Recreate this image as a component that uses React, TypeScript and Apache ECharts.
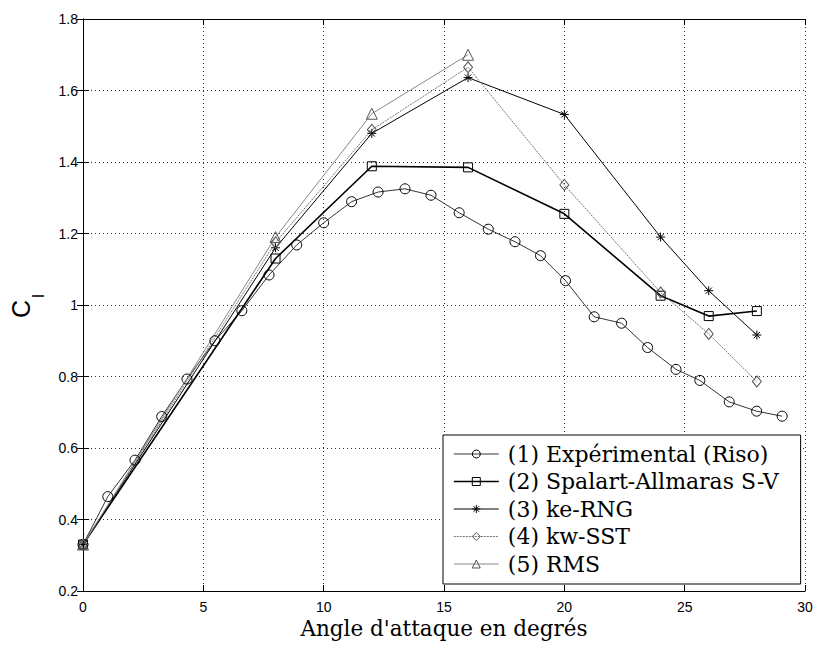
import React, { useEffect, useRef } from "react";
import * as echarts from "echarts";

const expX = [0, 1.03, 2.16, 3.27, 4.32, 5.48, 6.6, 7.73, 8.88, 10.0, 11.16, 12.26, 13.38, 14.46, 15.63, 16.84, 17.95, 19.01, 20.05, 21.24, 22.38, 23.46, 24.64, 25.63, 26.85, 27.99, 29.05];
const expY = [0.33, 0.464, 0.566, 0.688, 0.793, 0.9, 0.984, 1.084, 1.168, 1.23, 1.289, 1.316, 1.325, 1.307, 1.258, 1.212, 1.177, 1.138, 1.068, 0.967, 0.949, 0.881, 0.82, 0.789, 0.729, 0.703, 0.689];

const modelX = [0, 8, 12, 16, 20, 24, 26, 28];
const saY = [0.33, 1.13, 1.388, 1.385, 1.255, 1.026, 0.969, 0.983];
const rngY = [0.33, 1.16, 1.48, 1.636, 1.533, 1.19, 1.04, 0.916];
const sstY = [0.33, 1.175, 1.49, 1.665, 1.336, 1.035, 0.919, 0.786];
const rmsX = [0, 8, 12, 16];
const rmsY = [0.33, 1.19, 1.535, 1.7];

const seriesNames = [
  "(1) Expérimental (Riso)",
  "(2) Spalart-Allmaras S-V",
  "(3) ke-RNG",
  "(4) kw-SST",
  "(5) RMS",
];

const xTitle = "Angle d'attaque en degrés";

const pairs = (xs: number[], ys: number[]) => xs.map((x, i) => [x, ys[i]]);

const STAR = "path://M5,0 L5,10 M0,5 L10,5 M1.5,1.5 L8.5,8.5 M1.5,8.5 L8.5,1.5";

export default function App() {
  const ref = useRef<HTMLDivElement>(null);
  useEffect(() => {
    document.body.style.margin = "0";
    const chart = echarts.init(ref.current!, undefined, { renderer: "svg" });
    const sans = "Liberation Sans";
    const serif = "DejaVu Serif";
    const mk = (
      name: string,
      data: number[][],
      symbol: string,
      symbolSize: number | number[],
      lineColor: string,
      lineWidth: number,
      lineType: any,
      markColor: string
    ) => ({
      name,
      type: "line",
      data,
      symbol,
      symbolSize,
      showSymbol: true,
      lineStyle: { color: lineColor, width: lineWidth, type: lineType },
      itemStyle: { color: "none", borderColor: markColor, borderWidth: 1 },
      emphasis: { disabled: true },
      z: 3,
    });
    chart.setOption({
      animation: false,
      backgroundColor: "#fff",
      grid: { left: 83, top: 19, width: 722, height: 572, containLabel: false },
      xAxis: [
        {
          type: "value",
          min: 0,
          max: 30,
          interval: 5,
          axisLine: { lineStyle: { color: "#000", width: 1 } },
          axisTick: { inside: true, length: 6, lineStyle: { color: "#000" } },
          axisLabel: { color: "#000", fontFamily: sans, fontSize: 14, margin: 9 },
          splitLine: { show: true, lineStyle: { color: "#333", type: [1, 3], width: 1 } },
        },
        {
          type: "value",
          position: "top",
          min: 0,
          max: 30,
          interval: 5,
          axisLine: { show: true, lineStyle: { color: "#000", width: 1 } },
          axisTick: { inside: true, length: 6, lineStyle: { color: "#000" } },
          axisLabel: { show: false },
          splitLine: { show: false },
        },
      ],
      yAxis: [
        {
          type: "value",
          min: 0.2,
          max: 1.8,
          interval: 0.2,
          axisLine: { show: true, lineStyle: { color: "#000", width: 1 } },
          axisTick: { show: true, inside: true, length: 6, lineStyle: { color: "#000" } },
          axisLabel: { color: "#000", fontFamily: sans, fontSize: 14, margin: 5 },
          splitLine: { show: true, lineStyle: { color: "#333", type: [1, 3], width: 1 } },
        },
        {
          type: "value",
          position: "right",
          min: 0.2,
          max: 1.8,
          interval: 0.2,
          axisLine: { show: true, lineStyle: { color: "#000", width: 1 } },
          axisTick: { show: true, inside: true, length: 6, lineStyle: { color: "#000" } },
          axisLabel: { show: false },
          splitLine: { show: false },
        },
      ],
      legend: {
        orient: "vertical",
        left: 443,
        top: 435,
        padding: [8, 22, 9, 10],
        itemGap: 5.5,
        itemWidth: 45,
        itemHeight: 10,
        backgroundColor: "#fff",
        borderColor: "#000",
        borderWidth: 1,
        borderRadius: 0,
        lineStyle: { width: "inherit" },
        itemStyle: { borderWidth: 1 },
        textStyle: { fontFamily: serif, fontSize: 22, lineHeight: 22, color: "#000", padding: [0, 0, 0, 4] },
        data: seriesNames,
        z: 10,
      },
      series: [
        mk(seriesNames[0], pairs(expX, expY), "circle", 10, "#000", 0.8, "solid", "#000"),
        mk(seriesNames[1], pairs(modelX, saY), "rect", 9, "#000", 1.6, "solid", "#000"),
        mk(seriesNames[2], pairs(modelX, rngY), STAR, 9, "#000", 1, "solid", "#000"),
        mk(seriesNames[3], pairs(modelX, sstY), "diamond", [9, 11], "#777", 1, [2, 1], "#555"),
        mk(seriesNames[4], pairs(rmsX, rmsY), "triangle", 11, "#888", 1, "solid", "#555"),
      ],
      graphic: [
        {
          type: "text",
          x: 444,
          y: 628,
          style: {
            text: xTitle,
            fontFamily: serif,
            fontSize: 21.5,
            fill: "#000",
            align: "center",
            verticalAlign: "middle",
          },
        },
        {
          type: "text",
          x: 21,
          y: 309,
          rotation: Math.PI / 2,
          style: {
            text: "C",
            fontFamily: sans,
            fontSize: 25,
            fill: "#000",
            align: "center",
            verticalAlign: "middle",
          },
        },
        {
          type: "text",
          x: 38,
          y: 296,
          rotation: Math.PI / 2,
          style: {
            text: "l",
            fontFamily: sans,
            fontSize: 16,
            fill: "#000",
            align: "center",
            verticalAlign: "middle",
          },
        },
      ],
    });
    return () => chart.dispose();
  }, []);
  return <div ref={ref} style={{ width: 819, height: 646 }} />;
}
